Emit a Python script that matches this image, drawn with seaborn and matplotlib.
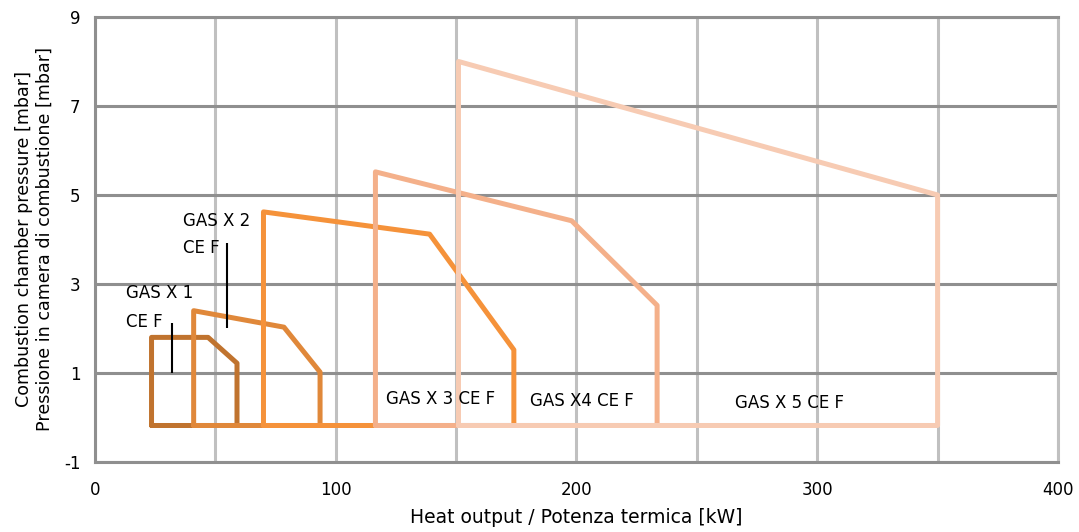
import numpy as np
import pandas as pd
import matplotlib
matplotlib.use("Agg")
import matplotlib.pyplot as plt
import seaborn as sns

# Operating field outlines (closed polygons)
models = ["GAS X 1", "GAS X 2", "GAS X 3", "GAS X 4", "GAS X 5"]
x1 = [23.5, 23.5, 47, 59, 59, 23.5]
y1 = [-0.18, 1.8, 1.8, 1.22, -0.18, -0.18]
x2 = [41, 41, 78.5, 93.5, 93.5, 41]
y2 = [-0.18, 2.4, 2.03, 1.02, -0.18, -0.18]
x3 = [70, 70, 139, 174, 174, 70]
y3 = [-0.18, 4.62, 4.12, 1.52, -0.18, -0.18]
x4 = [116.5, 116.5, 198, 233.5, 233.5, 116.5]
y4 = [-0.18, 5.52, 4.42, 2.52, -0.18, -0.18]
x5 = [151, 151, 350, 350, 151]
y5 = [-0.18, 8.0, 5.0, -0.18, -0.18]
colors = ["#C0732E", "#E0883A", "#F5923A", "#F4B08A", "#F7CBB3"]

xs = [x1, x2, x3, x4, x5]
ys = [y1, y2, y3, y4, y5]

sns.set_style("white")
plt.rcParams['font.family'] = ['DejaVu Sans']
plt.rcParams['text.color'] = 'black'
plt.rcParams['axes.labelcolor'] = 'black'
plt.rcParams['xtick.color'] = 'black'
plt.rcParams['ytick.color'] = 'black'
plt.rcParams['axes.unicode_minus'] = False

fig = plt.figure(figsize=(10.79, 5.32), dpi=100)
ax = fig.add_axes([0.088, 0.1316, 0.8925, 0.8365])

for name, xx, yy, c in zip(models, xs, ys, colors):
    df = pd.DataFrame({'kW': xx, 'mbar': yy})
    sns.lineplot(data=df, x='kW', y='mbar', sort=False, estimator=None,
                 color=c, linewidth=3.6, ax=ax, zorder=3)

# labels for each burner
ax.text(36.5, 4.42, "GAS X 2", fontsize=12, va='center', ha='left')
ax.text(36.5, 3.8, "CE F", fontsize=12, va='center', ha='left')
ax.text(13, 2.8, "GAS X 1", fontsize=12, va='center', ha='left')
ax.text(13, 2.15, "CE F", fontsize=12, va='center', ha='left')
ax.vlines([31.9], 1.0, 2.13, color='black', linewidth=1.5, zorder=4)
ax.vlines([54.8], 2.0, 3.93, color='black', linewidth=1.5, zorder=4)
ax.text(121, 0.41, "GAS X 3 CE F", fontsize=12, va='center', ha='left')
ax.text(180.5, 0.36, "GAS X4 CE F", fontsize=12, va='center', ha='left')
ax.text(266, 0.33, "GAS X 5 CE F", fontsize=12, va='center', ha='left')

ax.set_xlim(0, 400)
ax.set_ylim(-1, 9)
ax.set_xticks([0, 100, 200, 300, 400])
ax.set_xticks([50, 150, 250, 350], minor=True)
ax.set_yticks([-1, 1, 3, 5, 7, 9])
ax.grid(axis='y', color='#8f8f8f', linewidth=2.2, zorder=0)
ax.grid(axis='x', which='both', color='#c0c0c0', linewidth=2.2, zorder=0)
ax.set_axisbelow(True)
ax.tick_params(length=0, labelsize=12)
ax.tick_params(axis='x', pad=14)
ax.tick_params(axis='y', pad=10.5)
ax.tick_params(which='minor', length=0)
for side in ['left', 'bottom', 'top']:
    ax.spines[side].set_color('#8f8f8f')
    ax.spines[side].set_linewidth(2.2)
ax.spines['right'].set_color('#c0c0c0')
ax.spines['right'].set_linewidth(2.2)

ax.set_xlabel("Heat output / Potenza termica [kW]", fontsize=13.5, labelpad=6)
ax.set_ylabel("Combustion chamber pressure [mbar]\nPressione in camera di combustione [mbar]",
              fontsize=12.6, labelpad=7)

fig.savefig("out.png", dpi=100)
